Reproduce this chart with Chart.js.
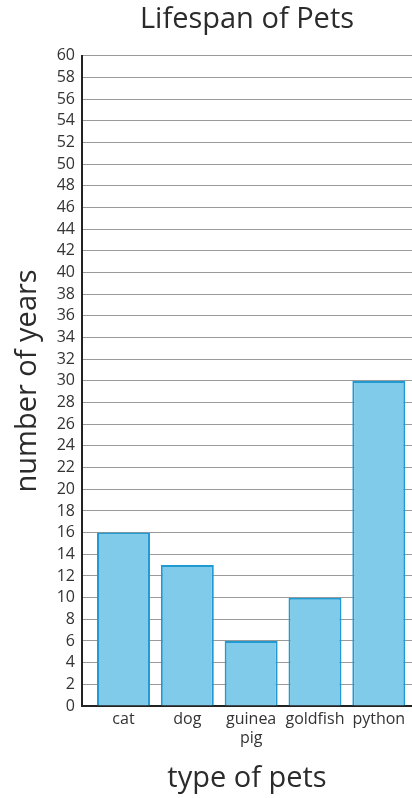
<!DOCTYPE html>
<html><head><meta charset="utf-8">
<script src="https://cdn.jsdelivr.net/npm/chart.js@4"></script>
<style>html,body{margin:0;padding:0;background:#fff}#wrap{width:412px;height:798px}</style>
</head><body><div id="wrap"><canvas id="c" width="412" height="798"></canvas></div>
<script>
const categories = ["cat", "dog", ["guinea", "pig"], "goldfish", "python"];
const lifespans = [16, 13, 6, 10, 30];
const yTicks = {min: 0, max: 60, step: 2};

const points = lifespans.map((v, i) => ({x: i, y: v}));
const font = "'Open Sans', sans-serif";

new Chart(document.getElementById('c'), {
  type: 'bar',
  data: {
    datasets: [{
      data: points,
      backgroundColor: '#80cbea',
      borderColor: '#1f9ad2',
      borderWidth: 2,
      categoryPercentage: 1,
      barPercentage: 0.83
    }]
  },
  options: {
    responsive: false,
    animation: false,
    layout: {padding: {left: 0, right: 0, top: 0, bottom: 0}},
    plugins: {
      legend: {display: false},
      tooltip: {enabled: false},
      title: {
        display: true,
        text: 'Lifespan of Pets',
        fullSize: false,
        color: '#2b2b2b',
        font: {family: font, size: 29, weight: 'normal', lineHeight: 1.2},
        padding: {top: 2, bottom: 19}
      }
    },
    scales: {
      x: {
        type: 'linear',
        offset: false,
        min: -0.65,
        max: 4.52,
        afterBuildTicks: s => { s.ticks = categories.map((c, i) => ({value: i})); },
        ticks: {
          autoSkip: false,
          maxRotation: 0,
          color: '#333',
          font: {family: font, size: 16},
          padding: 4,
          callback: (v) => categories[v]
        },
        grid: {display: false, drawTicks: false},
        border: {display: true, color: '#222', width: 2},
        title: {
          display: true,
          text: 'type of pets',
          color: '#2b2b2b',
          font: {family: font, size: 29},
          padding: {top: 0, bottom: 2}
        },
        afterFit: s => { s.height = 92; }
      },
      y: {
        min: yTicks.min,
        max: yTicks.max,
        ticks: {
          stepSize: yTicks.step,
          autoSkip: false,
          color: '#333',
          font: {family: font, size: 16},
          padding: 7
        },
        grid: {color: '#9a9a9a', lineWidth: 1, drawTicks: false},
        border: {display: true, color: '#222', width: 2},
        title: {
          display: true,
          text: 'number of years',
          color: '#2b2b2b',
          font: {family: font, size: 29},
          padding: {top: 10, bottom: 0}
        },
        afterFit: s => { s.width = 82; }
      }
    }
  }
});
</script>
</body></html>
